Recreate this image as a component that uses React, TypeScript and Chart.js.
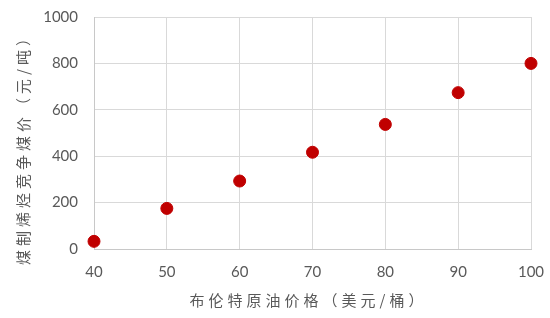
import React, { useEffect, useRef } from "react";
import { Chart, registerables } from "chart.js";

Chart.register(...registerables);

// Brent crude price (USD/bbl) vs. coal price at which coal-to-olefins stays competitive (CNY/t)
const oilPrices = [40, 50, 60, 70, 80, 90, 100];
const coalPrices = [33, 175, 293, 417, 537, 674, 800];
const xTitle = "布伦特原油价格（美元/桶）";
const yTitle = "煤制烯烃竞争煤价（元/吨）";

const TEXT = "#595959";
const GRID = "#d9d9d9";
const TITLE_FONT = '15px "Noto Sans CJK SC", sans-serif';

// Axis titles drawn by hand so the wide character spacing can be applied
const axisTitles = {
  id: "axisTitles",
  afterDraw(chart: any) {
    const { ctx, chartArea } = chart;
    ctx.save();
    ctx.fillStyle = TEXT;
    ctx.font = TITLE_FONT;
    (ctx as any).letterSpacing = "4px";
    ctx.textAlign = "center";
    ctx.textBaseline = "middle";
    const cx = (chartArea.left + chartArea.right) / 2;
    ctx.fillText(xTitle, cx - 4, 300);
    ctx.translate(23, (chartArea.top + chartArea.bottom) / 2 + 13);
    ctx.rotate(-Math.PI / 2);
    ctx.fillText(yTitle, 0, 0);
    ctx.restore();
  },
};

export default function App() {
  const ref = useRef<HTMLCanvasElement>(null);

  useEffect(() => {
    if (!ref.current) return;
    const chart = new Chart(ref.current, {
      type: "scatter",
      data: {
        datasets: [
          {
            data: oilPrices.map((x, i) => ({ x, y: coalPrices[i] })),
            backgroundColor: "#C00000",
            borderColor: "#C00000",
            pointRadius: 6,
            pointHoverRadius: 6,
            clip: false,
          },
        ],
      },
      options: {
        animation: false,
        responsive: false,
        events: [],
        layout: { autoPadding: false, padding: { top: 17, right: 19, left: 0, bottom: 0 } },
        plugins: { legend: { display: false }, tooltip: { enabled: false } },
        scales: {
          x: {
            type: "linear",
            min: 40,
            max: 100,
            ticks: {
              stepSize: 10,
              color: TEXT,
              font: { family: "Lato", size: 15 },
              padding: 0,
              callback: (v: any) => String(v),
            },
            grid: { color: GRID, lineWidth: 1, drawTicks: true, tickLength: 14, tickColor: "rgba(0,0,0,0)" },
            border: { color: "#c8c8c8", width: 1 },
            afterFit(scale: any) {
              scale.height = 69;
            },
          },
          y: {
            min: 0,
            max: 1000,
            ticks: {
              stepSize: 200,
              color: TEXT,
              font: { family: "Lato", size: 15 },
              padding: 0,
              callback: (v: any) => String(v),
            },
            grid: { color: GRID, lineWidth: 1, drawTicks: true, tickLength: 16, tickColor: "rgba(0,0,0,0)" },
            border: { color: "#c8c8c8", width: 1 },
            afterFit(scale: any) {
              scale.width = 94;
            },
          },
        },
      },
      plugins: [axisTitles],
    });
    return () => chart.destroy();
  }, []);

  return (
    <div style={{ position: "fixed", left: 0, top: 0, width: 550, height: 318, background: "#fff" }}>
      <canvas ref={ref} width={550} height={318} />
    </div>
  );
}
